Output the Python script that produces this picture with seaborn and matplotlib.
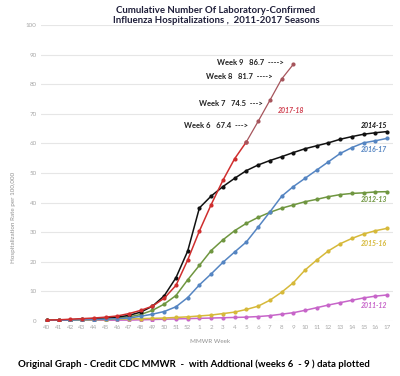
import matplotlib
matplotlib.use('Agg')
import matplotlib.pyplot as plt
import seaborn as sns
import pandas as pd

# MMWR weeks (week 40 .. week 17)
weeks = [40, 41, 42, 43, 44, 45, 46, 47, 48, 49, 50, 51, 52,
         1, 2, 3, 4, 5, 6, 7, 8, 9, 10, 11, 12, 13, 14, 15, 16, 17]

rate_2011_12 = [0.0, 0.1, 0.1, 0.1, 0.2, 0.2, 0.3, 0.3, 0.4, 0.5, 0.6, 0.7, 0.8,
                0.9, 1.0, 1.1, 1.2, 1.3, 1.5, 1.8, 2.3, 2.8, 3.6, 4.5, 5.4, 6.2, 7.0, 7.8, 8.4, 8.8]
rate_2012_13 = [0.2, 0.3, 0.4, 0.5, 0.6, 0.8, 1.0, 1.4, 2.2, 3.6, 5.7, 8.6, 13.9,
                18.8, 23.8, 27.4, 30.5, 33.0, 35.0, 36.7, 38.1, 39.2, 40.3, 41.1, 42.0, 42.7, 43.1, 43.3, 43.6, 43.7]
rate_2014_15 = [0.2, 0.3, 0.4, 0.6, 0.8, 1.0, 1.3, 1.9, 3.0, 5.0, 8.5, 14.6, 23.6,
                38.2, 42.2, 45.4, 48.2, 50.8, 52.7, 54.2, 55.5, 56.9, 58.2, 59.2, 60.2, 61.4, 62.3, 63.1, 63.6, 64.0]
rate_2015_16 = [0.1, 0.2, 0.3, 0.3, 0.4, 0.5, 0.6, 0.7, 0.8, 0.9, 1.0, 1.2, 1.4,
                1.7, 2.0, 2.5, 3.0, 3.9, 5.0, 7.0, 9.7, 12.9, 17.2, 20.6, 23.7, 26.1, 27.9, 29.4, 30.5, 31.3]
rate_2016_17 = [0.1, 0.2, 0.3, 0.4, 0.5, 0.6, 0.8, 1.0, 1.6, 2.3, 3.2, 4.8, 7.9,
                12.2, 15.9, 19.8, 23.3, 26.7, 31.7, 36.8, 42.1, 45.4, 48.2, 51.0, 53.8, 56.6, 58.6, 60.2, 60.9, 61.7]
rate_2017_18 = [0.3, 0.4, 0.6, 0.8, 1.0, 1.3, 1.7, 2.5, 3.6, 5.0, 7.7, 12.0, 20.6,
                30.4, 39.3, 47.5, 54.8, 60.5, 67.4, 74.5, 81.7, 86.7]

seasons = ['2011-12', '2012-13', '2014-15', '2015-16', '2016-17', '2017-18']
season_rates = [rate_2011_12, rate_2012_13, rate_2014_15, rate_2015_16, rate_2016_17, rate_2017_18]
colors = {'2011-12': '#c765c9', '2012-13': '#6f9640', '2014-15': '#111111',
          '2015-16': '#d6b93a', '2016-17': '#5585c2', '2017-18': '#cf2e2e'}

# added weeks (6 - 9) annotated on the 2017-18 curve
added_weeks = [6, 7, 8, 9]
added_vals = [67.4, 74.5, 81.7, 86.7]

rows = []
for s, vals in zip(seasons, season_rates):
    for i, v in enumerate(vals):
        rows.append({'pos': i, 'rate': v, 'season': s})
df = pd.DataFrame(rows)

plt.rcParams['font.family'] = ['Lato', 'DejaVu Sans']
fig = plt.figure(figsize=(4.0, 3.76), dpi=100)
ax = fig.add_axes([0.1025, 0.1463, 0.88, 0.7872])

base = df[~((df.season == '2017-18') & (df.pos > 17))]
sns.lineplot(data=base, x='pos', y='rate', hue='season', palette=colors, marker='o',
             markersize=3, markeredgewidth=0, linewidth=1.1, legend=False, ax=ax)
ext = df[(df.season == '2017-18') & (df.pos >= 17)]
sns.lineplot(data=ext, x='pos', y='rate', color='#a6555c', marker='o', markersize=3,
             markeredgewidth=0, linewidth=0.9, legend=False, ax=ax)

ax.set_xlim(-0.5, 29.5)
ax.set_ylim(0, 100)
ax.set_xticks(range(len(weeks)))
ax.set_xticklabels([str(w) for w in weeks])
ax.set_yticks(range(0, 101, 10))
ax.tick_params(axis='both', length=0, labelsize=4.5, colors='#a8a8a8', pad=3)
ax.grid(axis='y', color='#e6e6e6', linewidth=0.8)
ax.set_axisbelow(True)
for sp in ax.spines.values():
    sp.set_visible(False)
ax.set_xlabel('MMWR Week', fontsize=4.5, color='#909090')
ax.set_ylabel('Hospitalization Rate per 100,000', fontsize=4.5, color='#909090')
ax.xaxis.set_label_coords(0.48, -0.06)
ax.yaxis.set_label_coords(-0.07, 0.35)

# season labels at the right end of each curve
label_offsets = {'2014-15': (0, 6), '2016-17': (0, -11), '2012-13': (0, -8),
                 '2015-16': (0, -15), '2011-12': (0, -11)}
for s, vals in zip(seasons, season_rates):
    if s in label_offsets:
        ax.annotate(s, xy=(len(vals) - 1, vals[-1]), xytext=label_offsets[s],
                    textcoords='offset pixels', ha='right', va='center',
                    fontsize=5, style='italic', fontweight='bold', color=colors[s])
ax.annotate('2017-18', xy=(19, rate_2017_18[19]), xytext=(8, -10), textcoords='offset pixels',
            ha='left', va='center', fontsize=5, style='italic', fontweight='bold', color='#d04050')

# week annotations
week_offsets = [(-10, -4), (-7, -3), (-9, 3), (-10, 2)]
arrows = ['--->', '--->', '---->', '---->']
for w, v, off, arr in zip(added_weeks, added_vals, week_offsets, arrows):
    ax.annotate(f'Week {w}   {v}  {arr}', xy=(weeks.index(w), v), xytext=off,
                textcoords='offset pixels', ha='right', va='center', fontsize=5.5,
                fontweight='bold', color='#222222',
                bbox=dict(boxstyle='square,pad=0.15', fc='white', ec='none'))

fig.text(0.54, 0.985, 'Cumulative Number Of Laboratory-Confirmed\nInfluenza Hospitalizations ,  2011-2017 Seasons',
         ha='center', va='top', fontsize=6.9, fontweight='bold', color='#1f1f3a', linespacing=1.2)
fig.text(0.485, 0.03, 'Original Graph - Credit CDC MMWR  -  with Addtional (weeks 6  - 9 ) data plotted',
         ha='center', va='center', fontsize=6.9, fontweight='bold', color='black')

fig.savefig('out.png', dpi=100, facecolor='white')
